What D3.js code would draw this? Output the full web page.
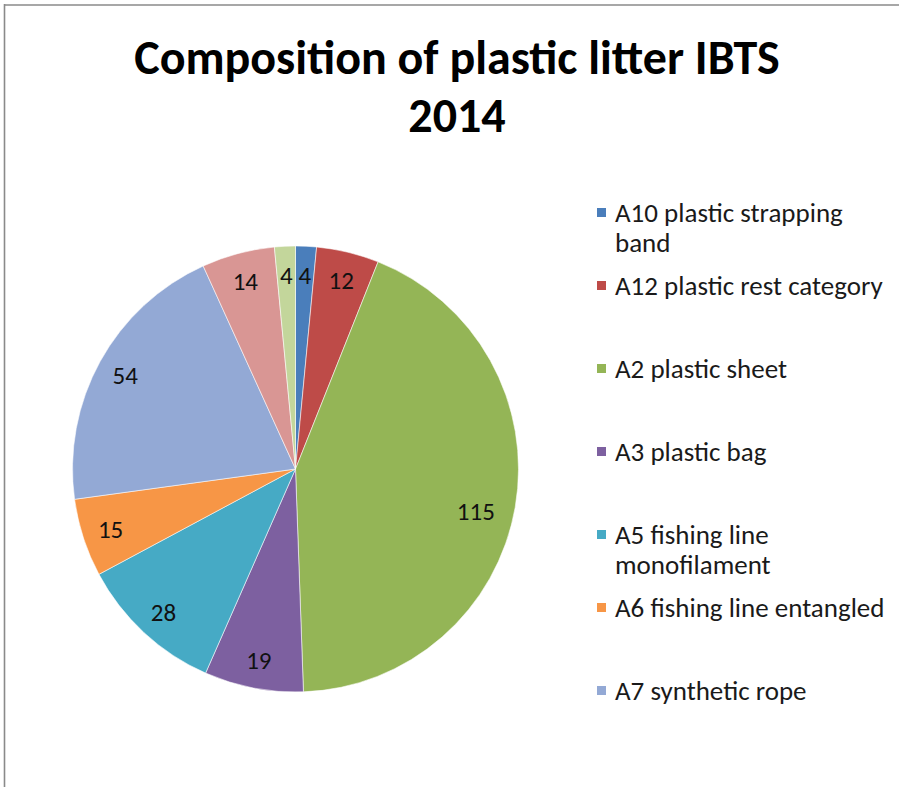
<!DOCTYPE html>
<html>
<head>
<meta charset="utf-8">
<script src="https://cdn.jsdelivr.net/npm/d3@7"></script>
<style>
  html, body { margin: 0; padding: 0; background: #fff; }
  svg { display: block; }
</style>
</head>
<body>
<svg id="chart" width="899" height="787"></svg>
<script>
// ---- data ----
const titleLines = ["Composition of plastic litter IBTS", "2014"];
const sliceValues = [4, 12, 115, 19, 28, 15, 54, 14, 4];
const sliceColors = ["#4A7EBB", "#BE4B48", "#94B556", "#7D60A0", "#46AAC5", "#F79646", "#93A9D5", "#D99694", "#C3D69B"];
const legendLabels = [
  "A10 plastic strapping band",
  "A12 plastic rest category",
  "A2 plastic sheet",
  "A3 plastic bag",
  "A5 fishing line monofilament",
  "A6 fishing line entangled",
  "A7 synthetic rope"
];

// ---- layout ----
const W = 899, H = 787;
const cx = 295.5, cy = 469, R = 223;
const font = "Carlito, Lato, 'Open Sans', sans-serif";

const svg = d3.select("#chart");

// frame
svg.append("line").attr("x1", 4.5).attr("x2", 4.5).attr("y1", 4).attr("y2", H)
  .attr("stroke", "#8a8a8a").attr("stroke-width", 1.6);
svg.append("line").attr("x1", 4).attr("x2", W).attr("y1", 5).attr("y2", 5)
  .attr("stroke", "#8a8a8a").attr("stroke-width", 1.6);

// title
const title = svg.append("text")
  .attr("x", 457).attr("text-anchor", "middle")
  .attr("font-family", font).attr("font-weight", "bold").attr("font-size", 48)
  .attr("fill", "#000");
title.selectAll("tspan").data(titleLines).join("tspan")
  .attr("x", 457).attr("y", (d, i) => 74 + i * 58).text(d => d);

// pie
const pie = d3.pie().sort(null).value(d => d)
  .startAngle(0).endAngle(2 * Math.PI);
const arcs = pie(sliceValues);
const arc = d3.arc().innerRadius(0).outerRadius(R);
const color = d3.scaleOrdinal().domain(d3.range(sliceValues.length)).range(sliceColors);

const g = svg.append("g").attr("transform", `translate(${cx},${cy})`);
g.selectAll("path.slice").data(arcs).join("path")
  .attr("class", "slice")
  .attr("d", arc)
  .attr("fill", (d, i) => color(i))
  .attr("stroke", "#ffffff").attr("stroke-opacity", 0.55).attr("stroke-width", 1);

// data labels (inside end; large slice label sits a bit deeper)
const total = d3.sum(sliceValues);
const labelFs = 25;
g.selectAll("text.lbl").data(arcs).join("text")
  .attr("class", "lbl")
  .attr("font-family", font).attr("font-size", labelFs)
  .attr("fill", "#111").attr("text-anchor", "middle")
  .each(function (d) {
    const big = d.value / total > 0.4;
    const frac = big ? 0.52 : 0.5;
    const a = d.startAngle + (d.endAngle - d.startAngle) * frac;
    const r = big ? R * 0.83 : R * 0.872;
    d3.select(this)
      .attr("x", r * Math.sin(a))
      .attr("y", -r * Math.cos(a) + labelFs * 0.36)
      .text(d.value);
  });

// legend
const legFs = 27, lineH = 30, maxW = 285;
const leg = svg.append("g");
let y = 222, prevLines = 1;
legendLabels.forEach((label, i) => {
  if (i > 0) y += prevLines > 1 ? 73 : 83;
  const item = leg.append("g");
  item.append("rect").attr("x", 597).attr("y", y - 14).attr("width", 9).attr("height", 9)
    .attr("fill", color(i));
  const t = item.append("text").attr("font-family", font).attr("font-size", legFs).attr("fill", "#1a1a1a");
  // wrap by width
  const words = label.split(" ");
  let lines = [], cur = "";
  const probe = svg.append("text").attr("font-family", font).attr("font-size", legFs);
  words.forEach(w => {
    const test = cur ? cur + " " + w : w;
    probe.text(test);
    if (probe.node().getComputedTextLength() > maxW && cur) { lines.push(cur); cur = w; }
    else cur = test;
  });
  lines.push(cur);
  probe.remove();
  lines.forEach((ln, k) => {
    t.append("tspan").attr("x", 615).attr("y", y + k * lineH).text(ln);
  });
  prevLines = lines.length;
});
</script>
</body>
</html>
